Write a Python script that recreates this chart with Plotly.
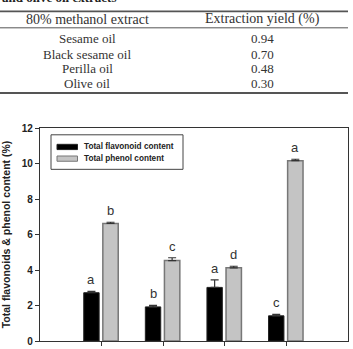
import plotly.graph_objects as go

# ---- data ----
extracts = ["Sesame oil", "Black sesame oil", "Perilla oil", "Olive oil"]
yields = ["0.94", "0.70", "0.48", "0.30"]
table_headers = ["80% methanol extract", "Extraction yield (%)"]
caption = "and olive oil extracts"

groups = [0, 1, 2, 3]
flavonoid = [2.72, 1.92, 3.02, 1.42]
flavonoid_err = [0.08, 0.09, 0.42, 0.08]
phenol = [6.62, 4.53, 4.12, 10.16]
phenol_err = [0.07, 0.16, 0.09, 0.08]
flav_letters = ["a", "b", "a", "c"]
phen_letters = ["b", "c", "d", "a"]
series_names = ["Total flavonoid content", "Total phenol content"]
series_fill = ["black", "#c4c4c4"]
series_edge = ["#222", "#777"]
y_ticks = [0, 2, 4, 6, 8, 10, 12]
y_title = "Total flavonoids & phenol content (%)"

W, H = 353, 349
ML, MR, MT, MB = 40, 5, 128, 2
PH = H - MT - MB

def py(Y):
    return (H - MB - Y) / PH

def px(X):
    return (X - ML) / (W - ML - MR)

sans = "Liberation Sans, Arial"
serif = "Liberation Serif, Times New Roman, serif"

fig = go.Figure()
for i, (vals, errs, off) in enumerate([(flavonoid, flavonoid_err, -0.29),
                                       (phenol, phenol_err, 0.02)]):
    fig.add_trace(go.Bar(
        x=groups, y=vals, name=series_names[i],
        marker=dict(color=series_fill[i], line=dict(color=series_edge[i], width=1.5 if i else 1)),
        width=0.25, offset=off, showlegend=False,
        error_y=dict(type="data", array=errs, arrayminus=[0] * len(errs),
                     symmetric=False, color="#333", thickness=1.2, width=4),
    ))

annots = []
for g, v, e, l in zip(groups, flavonoid, flavonoid_err, flav_letters):
    annots.append(dict(x=g - 0.165, y=v + e, text=l, showarrow=False, xref="x", yref="y",
                       yanchor="bottom", yshift=2,
                       font=dict(family=sans, size=13, color="#333")))
for g, v, e, l in zip(groups, phenol, phenol_err, phen_letters):
    annots.append(dict(x=g + 0.145, y=v + e, text=l, showarrow=False, xref="x", yref="y",
                       yanchor="bottom", yshift=2,
                       font=dict(family=sans, size=13, color="#333")))

shapes = []

# custom legend (wide swatches as in reference)
shapes.append(dict(type="rect", xref="paper", yref="paper", x0=px(51), x1=px(183),
                   y0=py(170.5), y1=py(135), line=dict(color="#444", width=1),
                   fillcolor="white"))
for i, (yc) in enumerate([147.5, 159.5]):
    shapes.append(dict(type="rect", xref="paper", yref="paper", x0=px(57), x1=px(77.5),
                       y0=py(yc + 2.7), y1=py(yc - 2.7), fillcolor=series_fill[i],
                       line=dict(color=series_edge[i], width=1)))
    annots.append(dict(x=px(81.5), y=py(yc), xref="paper", yref="paper",
                       text="<b>" + series_names[i] + "</b>", showarrow=False,
                       xanchor="left", yanchor="middle",
                       font=dict(family=sans, size=8.2, color="#222")))

# table
col_x = [87, 262]
annots.append(dict(x=px(0), y=py(3.5), xref="paper", yref="paper", text="<b>" + caption + "</b>",
                   showarrow=False, xanchor="left", yanchor="bottom",
                   font=dict(family=serif, size=13, color="#222")))
for cx, t in zip(col_x, table_headers):
    annots.append(dict(x=px(cx), y=py(16), xref="paper", yref="paper", text=t, showarrow=False,
                       xanchor="center", yanchor="middle",
                       font=dict(family=serif, size=14, color="#333")))
row_y = [36, 52, 67, 82]
for ry, name, val in zip(row_y, extracts, yields):
    annots.append(dict(x=px(col_x[0]), y=py(ry), xref="paper", yref="paper", text=name,
                       showarrow=False, xanchor="center", yanchor="middle",
                       font=dict(family=serif, size=13, color="#333")))
    annots.append(dict(x=px(col_x[1]), y=py(ry), xref="paper", yref="paper", text=val,
                       showarrow=False, xanchor="center", yanchor="middle",
                       font=dict(family=serif, size=13, color="#333")))

for Y, w in [(8, 1.8), (25, 1), (92, 1.8)]:
    shapes.append(dict(type="line", xref="paper", yref="paper", x0=px(0), x1=px(348),
                       y0=py(Y), y1=py(Y), line=dict(color="#555", width=w)))

fig.update_layout(
    width=W, height=H,
    margin=dict(l=ML, r=MR, t=MT, b=MB),
    paper_bgcolor="white", plot_bgcolor="white",
    showlegend=False,
    annotations=annots,
    shapes=shapes,
    xaxis=dict(range=[-1, 4], tickvals=groups, ticktext=[""] * 4,
               ticks="outside", ticklen=4, tickcolor="#333",
               showline=True, linecolor="#333", linewidth=1.2, mirror=True,
               showgrid=False, zeroline=False),
    yaxis=dict(range=[0, 12], tickvals=y_ticks,
               ticktext=["<b>%d</b>" % t for t in y_ticks],
               ticks="outside", ticklen=4, tickcolor="#333",
               tickfont=dict(family=sans, size=10, color="#222"),
               showline=True, linecolor="#333", linewidth=1.2, mirror=True,
               showgrid=False, zeroline=False,
               title=dict(text="<b>" + y_title + "</b>", standoff=10,
                          font=dict(family=sans, size=10.5, color="#222"))),
)
fig.write_html("out.html")
